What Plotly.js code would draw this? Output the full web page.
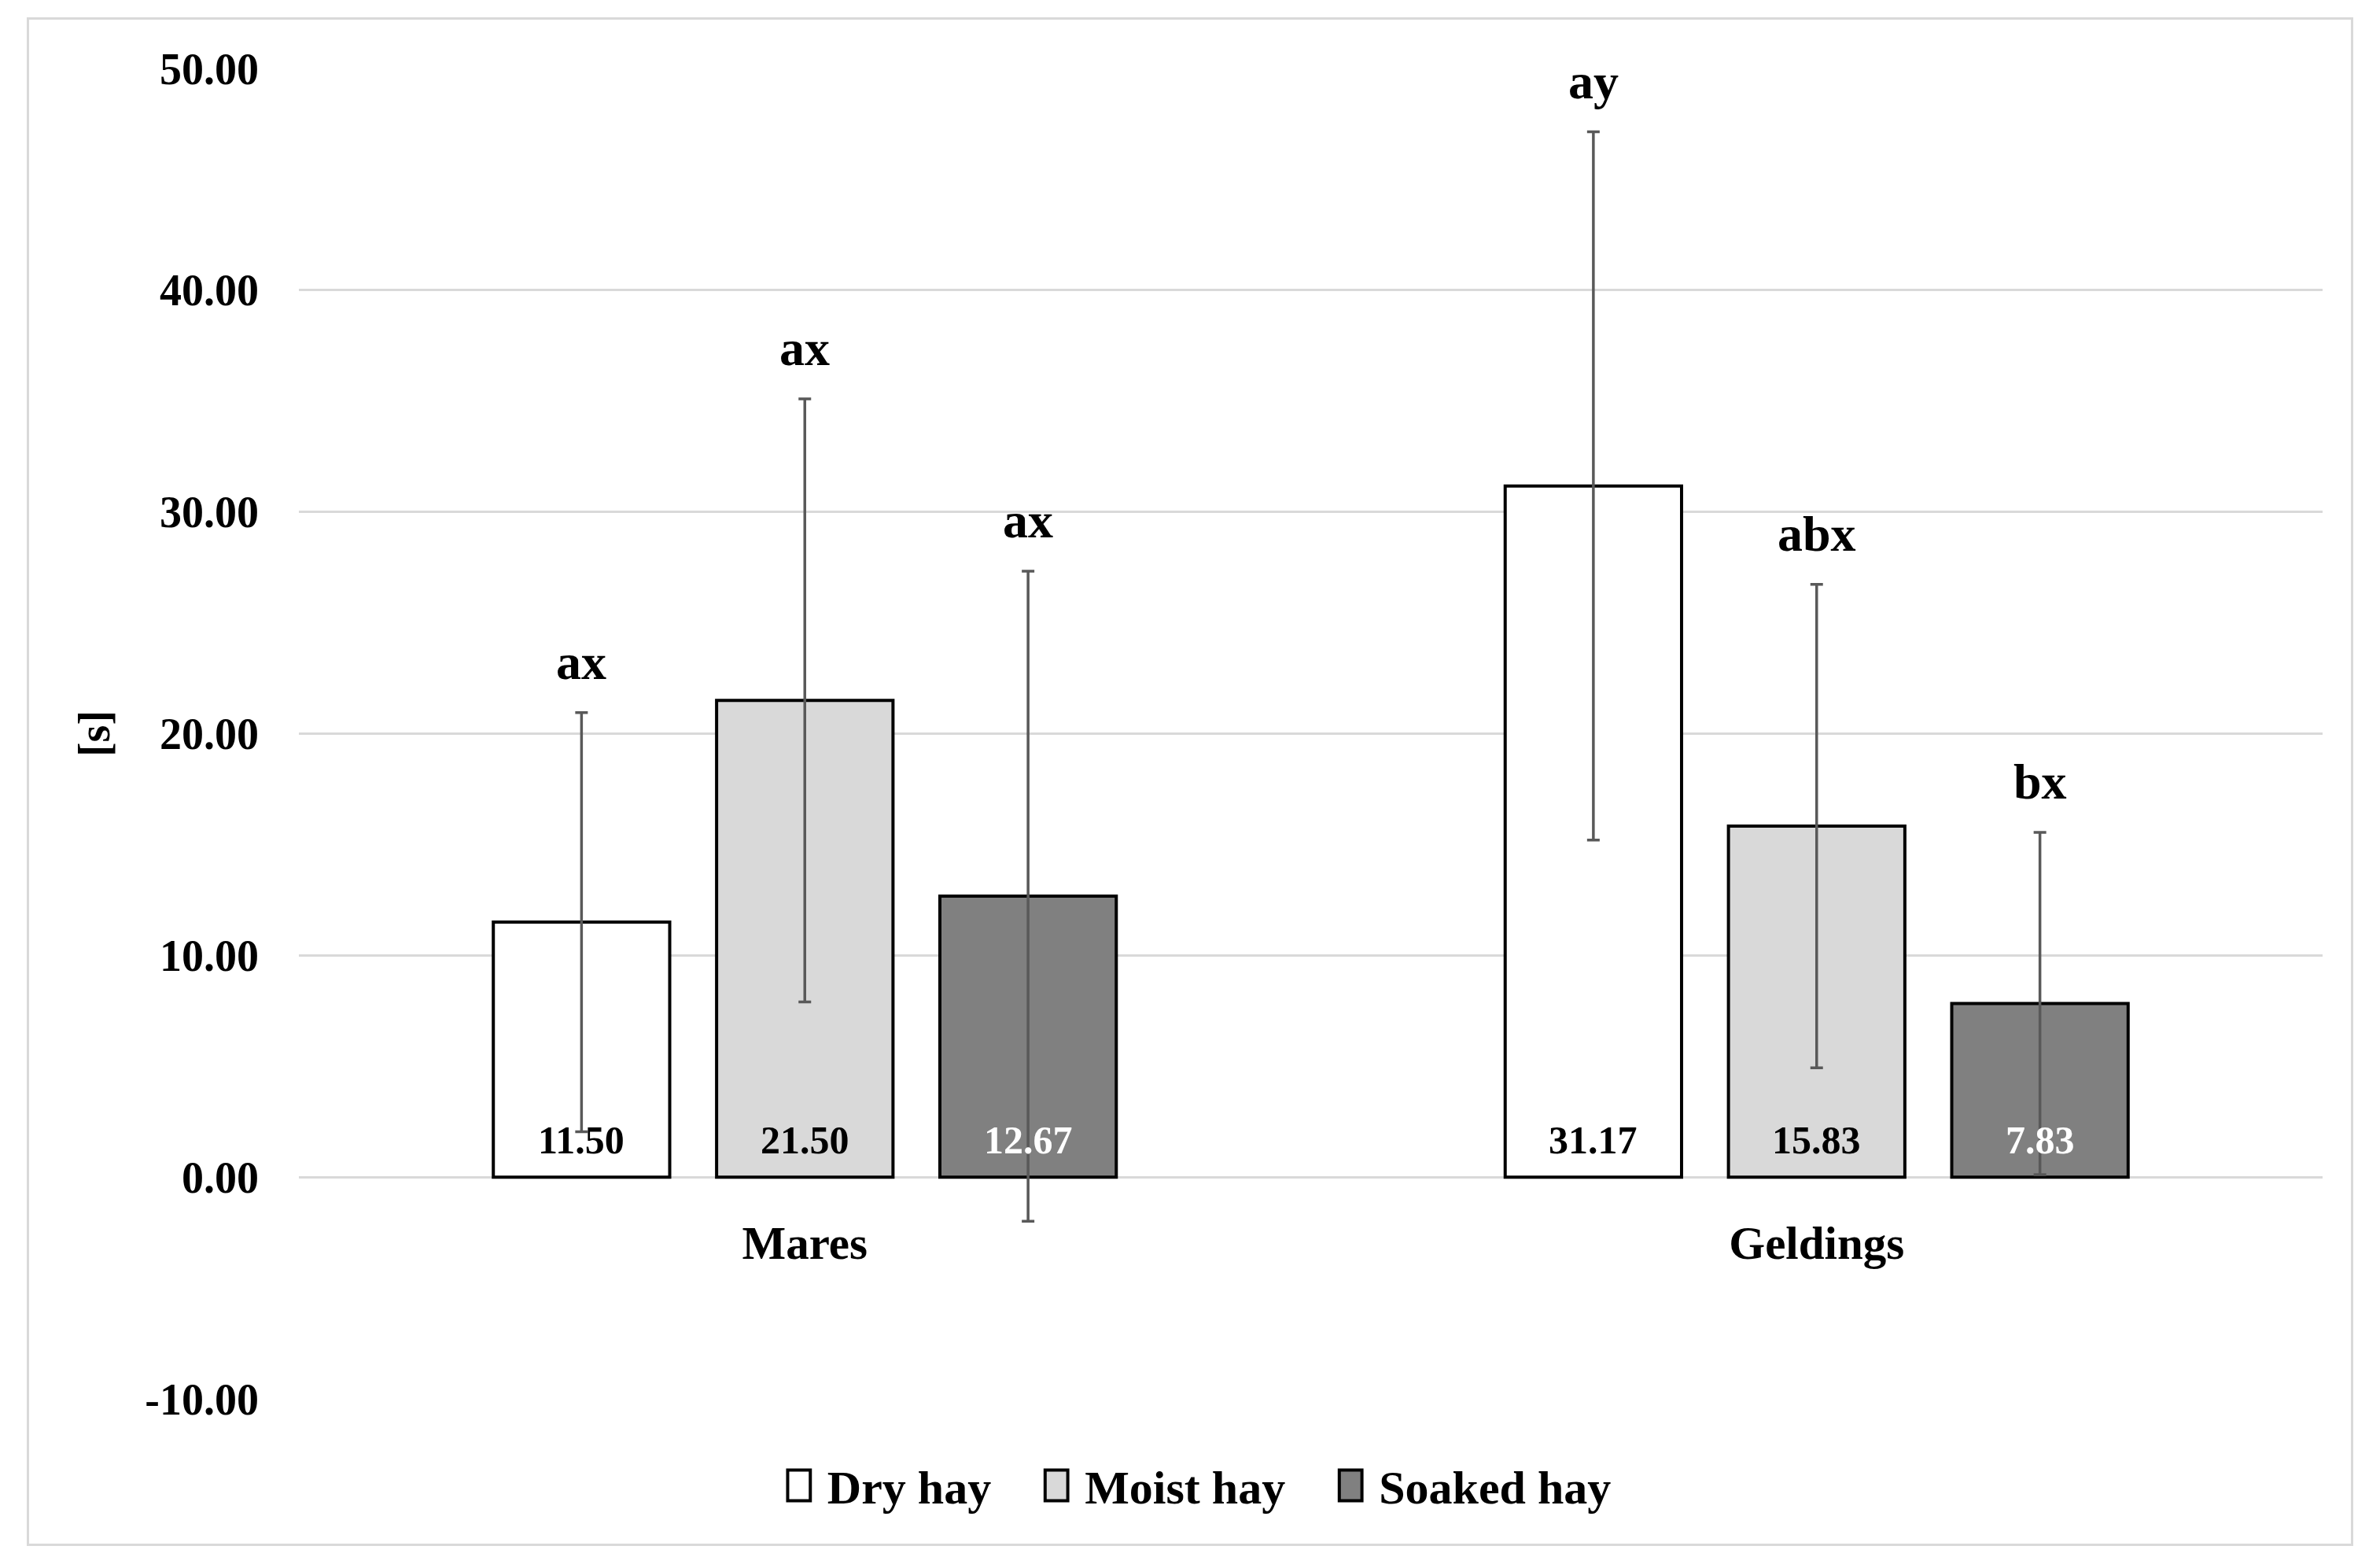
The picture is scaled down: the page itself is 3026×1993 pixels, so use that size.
<!DOCTYPE html>
<html>
<head>
<meta charset="utf-8">
<script src="https://cdn.plot.ly/plotly-3.0.1.min.js"></script>
<style>
  html, body { margin: 0; padding: 0; background: #ffffff; }
  #frame {
    position: absolute; left: 34px; top: 22px;
    border: 3px solid #d9d9d9;
    width: 2952px; height: 1937px;
  }
  #chart { width: 2952px; height: 1937px; }
</style>
</head>
<body>
<div id="frame"><div id="chart"></div></div>
<script>
// ---- data ----
const CATEGORIES = ['Mares', 'Geldings'];
const SERIES_NAMES = ['Dry hay', 'Moist hay', 'Soaked hay'];

const DRY_HAY    = [11.50, 31.17];
const MOIST_HAY  = [21.50, 15.83];
const SOAKED_HAY = [12.67, 7.83];

const DRY_ERR    = [9.45, 15.97];
const MOIST_ERR  = [13.60, 10.90];
const SOAKED_ERR = [14.66, 7.72];

const DRY_LETTERS    = ['ax', 'ay'];
const MOIST_LETTERS  = ['ax', 'abx'];
const SOAKED_LETTERS = ['ax', 'bx'];

const Y_TICKS = [-10, 0, 10, 20, 30, 40, 50];

// ---- styling ----
const FONT = 'Liberation Serif, Times New Roman, serif';
const FILLS = ['#ffffff', '#d9d9d9', '#808080'];
const LABEL_COLORS = ['#000000', '#000000', '#ffffff'];
const BARGAP = 0.338;
const BARGROUPGAP = 0.21;
const Y_RANGE = [Y_TICKS[0], Y_TICKS[Y_TICKS.length - 1]];
const NBSP = '\u00a0';

const values = [DRY_HAY, MOIST_HAY, SOAKED_HAY];
const errors = [DRY_ERR, MOIST_ERR, SOAKED_ERR];
const letters = [DRY_LETTERS, MOIST_LETTERS, SOAKED_LETTERS];

const traces = SERIES_NAMES.map((name, i) => ({
    type: 'bar',
    name: name + NBSP.repeat(4),
    x: CATEGORIES,
    y: values[i],
    marker: { color: FILLS[i], line: { color: '#000000', width: 4 } },
    error_y: {
        type: 'data', array: errors[i], visible: true,
        color: '#595959', thickness: 3.5, width: 8
    },
    hoverinfo: 'skip'
}));

const annotations = [];
const n = SERIES_NAMES.length;
const slot = (1 - BARGAP) / n;
for (let i = 0; i < n; i++) {
    for (let c = 0; c < CATEGORIES.length; c++) {
        const xPos = c + (i - (n - 1) / 2) * slot;
        // significance letters above each error bar
        annotations.push({
            x: xPos, y: values[i][c] + errors[i][c],
            xref: 'x', yref: 'y',
            text: '<b>' + letters[i][c] + '</b>',
            showarrow: false, yanchor: 'bottom', yshift: 27,
            font: { family: FONT, size: 64, color: '#000000' }
        });
        // value label at the bar base
        annotations.push({
            x: xPos, y: 0,
            xref: 'x', yref: 'y',
            text: '<b>' + values[i][c].toFixed(2) + '</b>',
            showarrow: false, yanchor: 'bottom', yshift: 17,
            font: { family: FONT, size: 50, color: LABEL_COLORS[i] }
        });
    }
}

const layout = {
    width: 2952, height: 1937,
    margin: { l: 343, r: 36, t: 62, b: 184 },
    paper_bgcolor: '#ffffff',
    plot_bgcolor: '#ffffff',
    font: { family: FONT, color: '#000000', size: 56, weight: 'bold' },
    barmode: 'group',
    bargap: BARGAP,
    bargroupgap: BARGROUPGAP,
    showlegend: true,
    legend: {
        orientation: 'h',
        x: 0.457, xanchor: 'center',
        y: -0.065, yanchor: 'middle',
        itemwidth: 44,
        font: { family: FONT, size: 60, weight: 'bold' },
        bgcolor: 'rgba(0,0,0,0)',
        traceorder: 'normal'
    },
    xaxis: {
        type: 'category',
        anchor: 'free',
        position: (0 - Y_RANGE[0]) / (Y_RANGE[1] - Y_RANGE[0]),
        showgrid: false, showline: false, zeroline: false,
        ticks: '',
        ticklabelstandoff: 44,
        tickfont: { family: FONT, size: 59, weight: 'bold' }
    },
    yaxis: {
        range: Y_RANGE,
        tickvals: Y_TICKS,
        ticktext: Y_TICKS.map(v => v.toFixed(2)),
        showgrid: true, gridcolor: '#d9d9d9', gridwidth: 3,
        zeroline: true, zerolinecolor: '#d9d9d9', zerolinewidth: 3,
        showline: false, ticks: '',
        ticklabelstandoff: 50,
        tickfont: { family: FONT, size: 56, weight: 'bold' },
        title: {
            text: '[s]',
            standoff: 26,
            font: { family: FONT, size: 56, weight: 'bold' }
        }
    },
    annotations: annotations
};

Plotly.newPlot('chart', traces, layout, { displayModeBar: false, staticPlot: true })
    .then(gd => {
        // taller legend swatches, set a little before each label as in the original
        gd.querySelectorAll('.legend g.traces').forEach(item => {
            const label = item.querySelector('text.legendtext');
            const textX = label ? parseFloat(label.getAttribute('x')) || 40 : 40;
            item.querySelectorAll('.legendpoints path').forEach(p => {
                p.setAttribute('transform',
                    'translate(' + (textX - 36) + ',0) scale(2.4,3.25)');
                p.style.vectorEffect = 'non-scaling-stroke';
                p.style.strokeWidth = '4px';
            });
        });
    });
</script>
</body>
</html>
